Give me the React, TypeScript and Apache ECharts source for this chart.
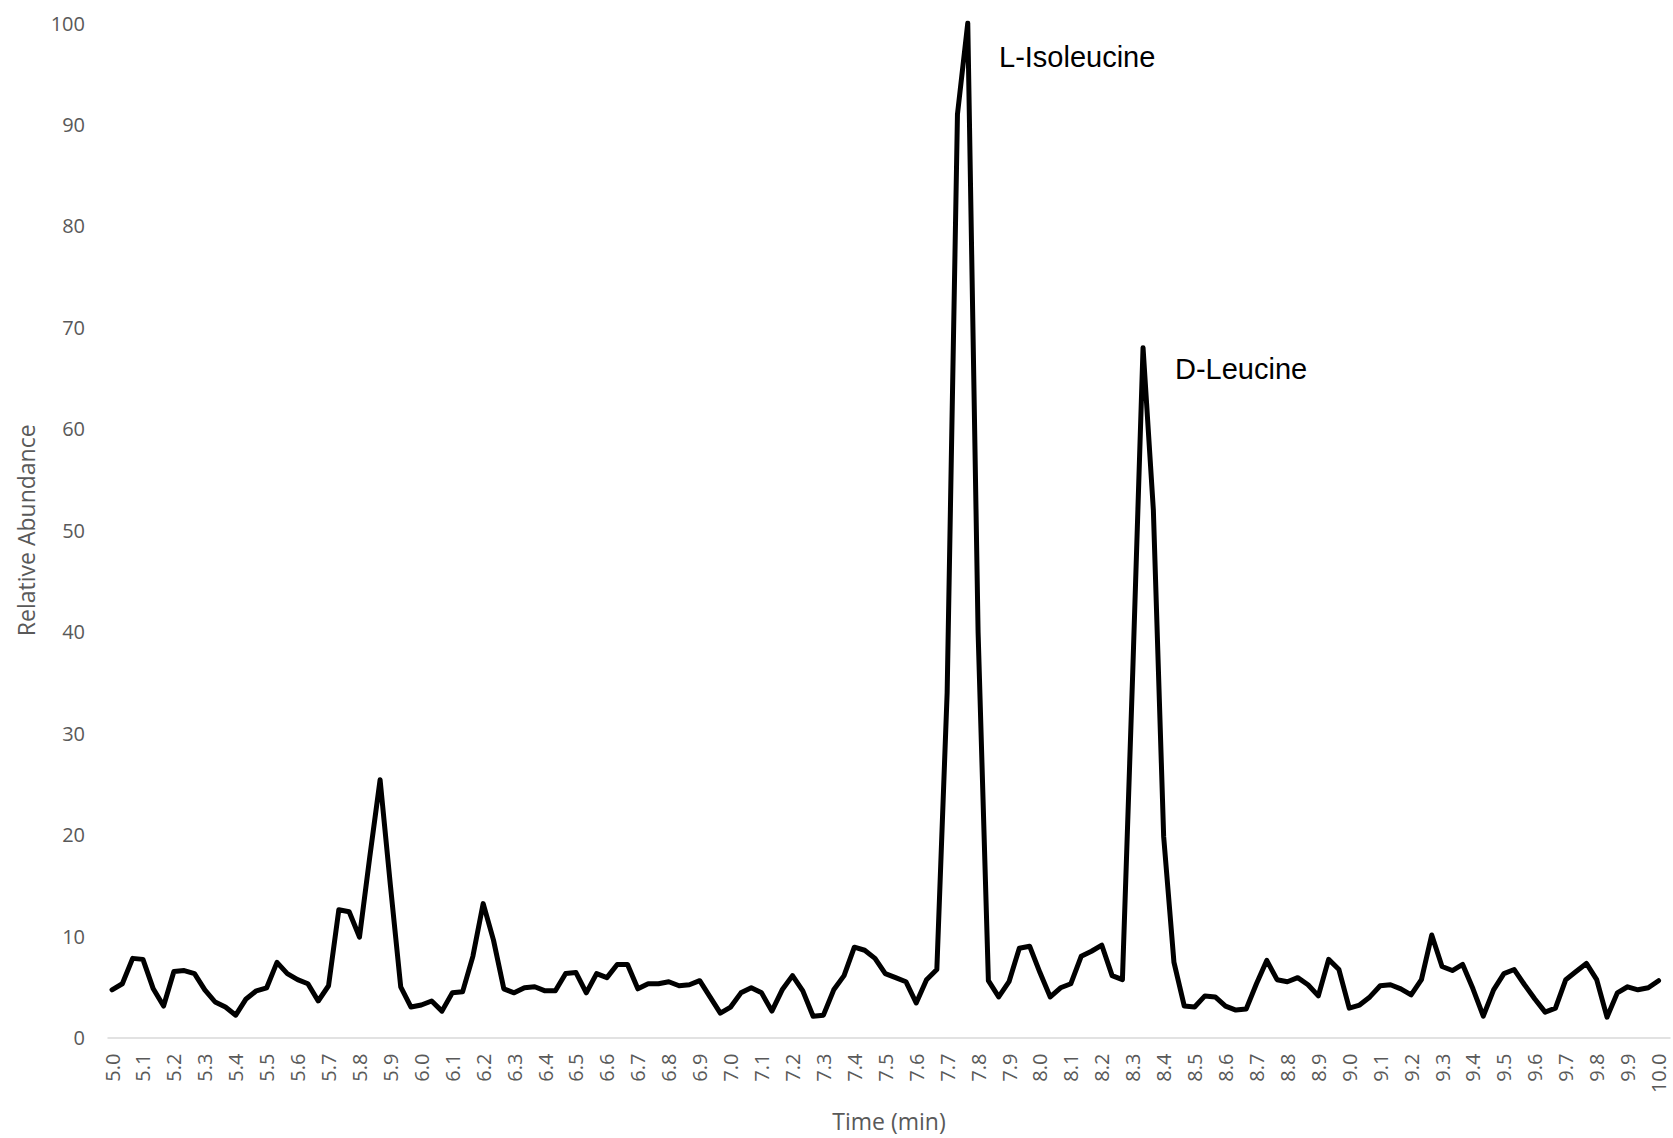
import React, { useEffect, useRef } from "react";
import * as echarts from "echarts";

// Sample index → time (min): sampled every 2 s (1/30 min) from 5.0 to 10.0
const startTime = 5.0;
const sampleStep = 1 / 30;

// Relative abundance readings, one per sample (151 samples)
const abundance: number[] = [
  4.7, 5.3, 7.8, 7.7, 4.8, 3.1, 6.5, 6.6, 6.3, 4.7,
  3.5, 3.0, 2.2, 3.8, 4.6, 4.9, 7.4, 6.3, 5.7, 5.3,
  3.6, 5.1, 12.6, 12.4, 9.9, 17.8, 25.4, 15.0, 5.0, 3.0,
  3.2, 3.6, 2.6, 4.4, 4.5, 8.0, 13.2, 9.6, 4.8, 4.4,
  4.9, 5.0, 4.6, 4.6, 6.3, 6.4, 4.4, 6.3, 5.9, 7.2,
  7.2, 4.8, 5.3, 5.3, 5.5, 5.1, 5.2, 5.6, 4.0, 2.4,
  3.0, 4.4, 4.9, 4.4, 2.6, 4.7, 6.1, 4.6, 2.1, 2.2,
  4.7, 6.1, 8.9, 8.6, 7.8, 6.3, 5.9, 5.5, 3.4, 5.7,
  6.7, 34.0, 91.0, 100.0, 40.0, 5.6, 4.0, 5.5, 8.8, 9.0,
  6.4, 4.0, 4.9, 5.3, 8.0, 8.5, 9.1, 6.1, 5.7, 36.0,
  68.0, 52.0, 19.8, 7.4, 3.1, 3.0, 4.1, 4.0, 3.1, 2.7,
  2.8, 5.3, 7.6, 5.7, 5.5, 5.9, 5.2, 4.1, 7.7, 6.7,
  2.9, 3.2, 4.0, 5.1, 5.2, 4.8, 4.2, 5.7, 10.1, 7.0,
  6.6, 7.2, 4.8, 2.1, 4.7, 6.3, 6.7, 5.2, 3.8, 2.5,
  2.9, 5.7, 6.5, 7.3, 5.7, 2.0, 4.4, 5.0, 4.7, 4.9,
  5.6,
];

// X-axis tick labels (min)
const xTickLabels: string[] = [
  "5.0", "5.1", "5.2", "5.3", "5.4", "5.5", "5.6", "5.7", "5.8", "5.9",
  "6.0", "6.1", "6.2", "6.3", "6.4", "6.5", "6.6", "6.7", "6.8", "6.9",
  "7.0", "7.1", "7.2", "7.3", "7.4", "7.5", "7.6", "7.7", "7.8", "7.9",
  "8.0", "8.1", "8.2", "8.3", "8.4", "8.5", "8.6", "8.7", "8.8", "8.9",
  "9.0", "9.1", "9.2", "9.3", "9.4", "9.5", "9.6", "9.7", "9.8", "9.9",
  "10.0",
];

// Peak annotations
const peakNames: string[] = ["L-Isoleucine", "D-Leucine"];

const axisFont = "'Open Sans', 'DejaVu Sans', sans-serif";
const axisColor = "#595959";

export default function App() {
  const ref = useRef<HTMLDivElement>(null);

  useEffect(() => {
    if (!ref.current) return;
    const chart = echarts.init(ref.current, null, { renderer: "svg" });
    const seriesData = abundance.map((v, i) => [startTime + i * sampleStep, v]);

    chart.setOption({
      animation: false,
      backgroundColor: "#ffffff",
      grid: { left: 108, right: 3, top: 23, bottom: 100.5, containLabel: false },
      xAxis: {
        type: "value",
        min: 4.987,
        max: 10.037,
        name: "Time (min)",
        nameLocation: "middle",
        nameGap: 72,
        nameTextStyle: { fontFamily: axisFont, fontSize: 23, color: axisColor },
        axisLine: { show: true, lineStyle: { color: "#d9d9d9", width: 1.5 } },
        axisTick: { show: false },
        splitLine: { show: false },
        axisLabel: {
          customValues: xTickLabels.map(Number),
          formatter: (v: number) => v.toFixed(1),
          rotate: 90,
          margin: 16,
          fontFamily: axisFont,
          fontSize: 20,
          color: axisColor,
        },
      },
      yAxis: {
        type: "value",
        min: 0,
        max: 100,
        interval: 10,
        name: "Relative Abundance",
        nameLocation: "middle",
        nameRotate: 90,
        nameGap: 71,
        nameTextStyle: { fontFamily: axisFont, fontSize: 23, color: axisColor },
        axisLine: { show: false },
        axisTick: { show: false },
        splitLine: { show: false },
        axisLabel: {
          margin: 23,
          fontFamily: axisFont,
          fontSize: 20,
          color: axisColor,
        },
      },
      series: [
        {
          type: "line",
          data: seriesData,
          showSymbol: false,
          symbol: "none",
          lineStyle: { color: "#000000", width: 5, join: "round", cap: "round" },
          silent: true,
        },
      ],
      graphic: [
        {
          type: "text",
          left: 999,
          top: 42,
          style: {
            text: peakNames[0],
            font: "29px 'Liberation Sans', Arial, sans-serif",
            fill: "#000000",
          },
        },
        {
          type: "text",
          left: 1175,
          top: 354,
          style: {
            text: peakNames[1],
            font: "29px 'Liberation Sans', Arial, sans-serif",
            fill: "#000000",
          },
        },
      ],
    });

    return () => chart.dispose();
  }, []);

  return (
    <div
      ref={ref}
      style={{ position: "absolute", left: 0, top: 0, width: 1673, height: 1138 }}
    />
  );
}
